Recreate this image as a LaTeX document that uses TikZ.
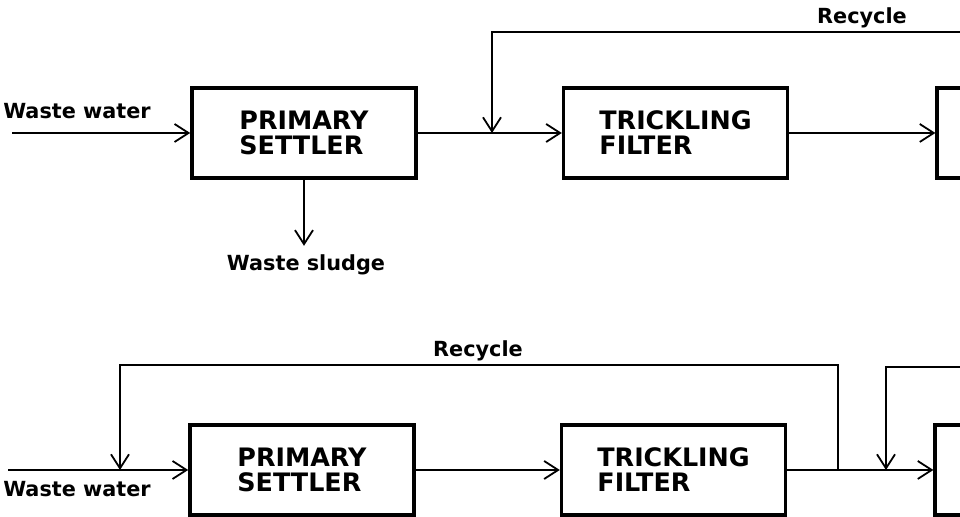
\documentclass[tikz,border=0pt]{standalone}
\usepackage{fontspec}
\setmainfont{DejaVu Sans}
\usetikzlibrary{positioning,arrows.meta}

\begin{document}
\begin{tikzpicture}[x=0.5pt,y=0.5pt,
      unitbox/.style={draw,line width=1.8pt,minimum width=112pt,minimum height=45pt,inner sep=0pt,align=left,font=\bfseries\fontsize{12.7}{12.5}\selectfont},
      lbl/.style={font=\bfseries\fontsize{10.4}{12}\selectfont,inner sep=0pt},
      stream/.style={line width=0.9pt,-{Straight Barb[length=7pt,width=9pt]}}]
    \useasboundingbox (0,0) rectangle (960,517);
    \clip (0,0) rectangle (960,517);

    % upper scheme
    \node[unitbox] (ps1) at (304,384) {PRIMARY\\SETTLER};
    \node[unitbox,right=72pt of ps1] (tf1) {TRICKLING\\FILTER};
    \node[unitbox,right=73pt of tf1] (cl1) {};
    \coordinate (in1) at (12,384);
    \coordinate (j1) at (492,384);
    \coordinate (rc1) at (970,485);
    \coordinate (sl1) at ([yshift=-33pt]ps1.south);
    \node[lbl] (ww1) at (77,406) {Waste water};
    \node[lbl] (ws1) at (306,252) {Waste sludge};
    \node[lbl] (rl1) at (862,499) {Recycle};
    \draw[stream] (in1) -- (ps1);
    \draw[stream] (ps1) -- (sl1);
    \draw[stream] (ps1) -- (tf1);
    \draw[stream] (tf1) -- (cl1);
    \draw[stream] (rc1) -| (j1);

    % lower scheme
    \node[unitbox] (ps2) at (302,47) {PRIMARY\\SETTLER};
    \node[unitbox,right=72pt of ps2] (tf2) {TRICKLING\\FILTER};
    \node[unitbox,right=73pt of tf2] (cl2) {};
    \coordinate (in2) at (8,47);
    \coordinate (j2) at (120,47);
    \coordinate (s2) at (838,47);
    \coordinate (j3) at (886,47);
    \coordinate (rc2) at (970,150);
    \node[lbl] (ww2) at (77,28) {Waste water};
    \node[lbl] (rl2) at (478,166) {Recycle};
    \draw[stream] (in2) -- (ps2);
    \draw[stream] (ps2) -- (tf2);
    \draw[stream] (tf2) -- (cl2);
    \draw[stream] (s2) |- ([yshift=52.5pt]j2) -- (j2);
    \draw[stream] (rc2) -| (j3);
  \end{tikzpicture}
\end{document}
